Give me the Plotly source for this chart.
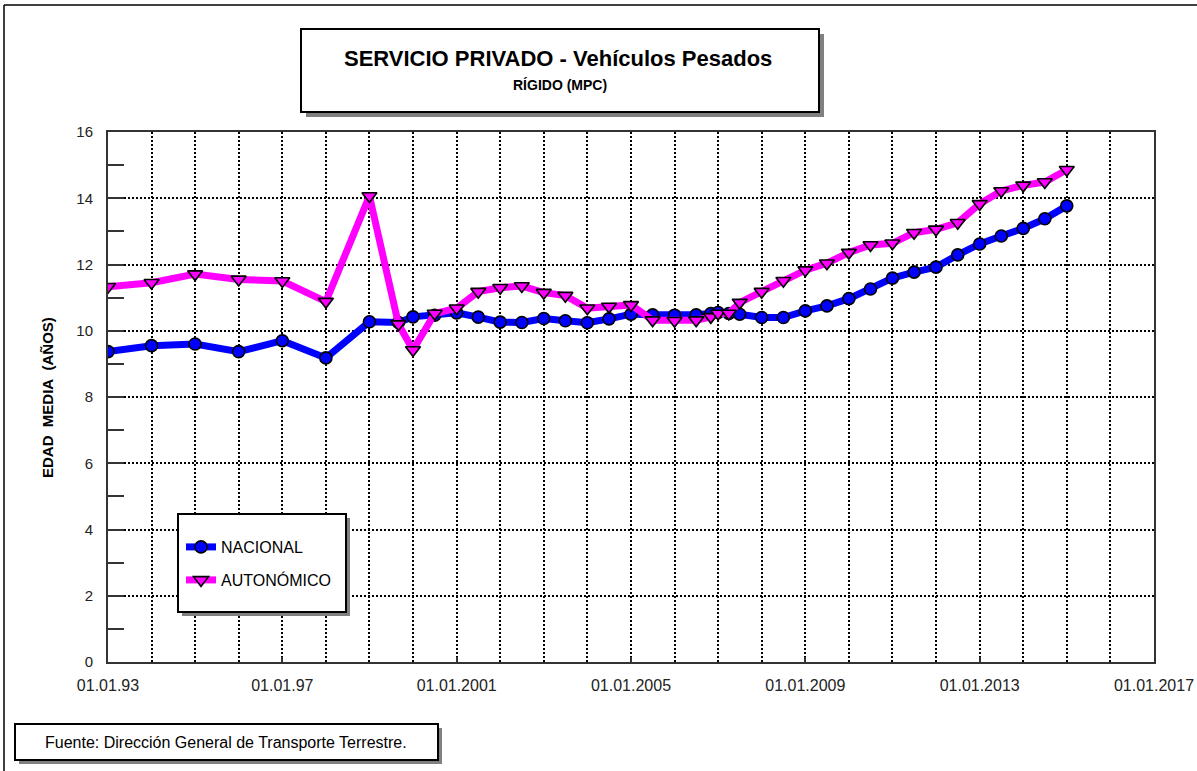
import plotly.graph_objects as go

# ---- data ----
dates = ["1993-01-01", "1994-01-01", "1995-01-01", "1996-01-01", "1997-01-01",
         "1998-01-01", "1999-01-01", "1999-09-01", "2000-01-01", "2000-07-01",
         "2001-01-01", "2001-07-01", "2002-01-01", "2002-07-01", "2003-01-01",
         "2003-07-01", "2004-01-01", "2004-07-01", "2005-01-01", "2005-07-01",
         "2006-01-01", "2006-07-01", "2006-11-01", "2007-01-01", "2007-04-01",
         "2007-07-01", "2008-01-01", "2008-07-01", "2009-01-01", "2009-07-01",
         "2010-01-01", "2010-07-01", "2011-01-01", "2011-07-01", "2012-01-01",
         "2012-07-01", "2013-01-01", "2013-07-01", "2014-01-01", "2014-07-01",
         "2015-01-01"]

nacional = [9.37, 9.55, 9.60, 9.37, 9.70, 9.18, 10.27, 10.25, 10.42, 10.47,
            10.54, 10.41, 10.26, 10.25, 10.37, 10.30, 10.24, 10.36, 10.50, 10.48,
            10.47, 10.48, 10.52, 10.55, 10.52, 10.50, 10.40, 10.40, 10.60, 10.75,
            10.97, 11.26, 11.59, 11.77, 11.92, 12.29, 12.62, 12.86, 13.09, 13.38,
            13.77]

autonomico = [11.33, 11.45, 11.71, 11.55, 11.50, 10.88, 14.07, 10.20, 9.42, 10.52,
              10.68, 11.18, 11.30, 11.35, 11.15, 11.06, 10.68, 10.73, 10.78, 10.32,
              10.30, 10.32, 10.42, 10.52, 10.52, 10.85, 11.18, 11.51, 11.83, 12.04,
              12.36, 12.59, 12.64, 12.96, 13.06, 13.26, 13.83, 14.22, 14.39, 14.49,
              14.86]

series_names = ["NACIONAL", "AUTONÓMICO"]
tick_dates = ["1993-01-01", "1997-01-01", "2001-01-01", "2005-01-01",
              "2009-01-01", "2013-01-01", "2017-01-01"]
tick_labels = ["01.01.93", "01.01.97", "01.01.2001", "01.01.2005",
               "01.01.2009", "01.01.2013", "01.01.2017"]
title_text = "SERVICIO PRIVADO - Vehículos Pesados"
subtitle_text = "RÍGIDO (MPC)"
y_title = "EDAD\u00a0\u00a0MEDIA\u00a0\u00a0(AÑOS)"
source_text = "Fuente: Dirección General de Transporte Terrestre."

# ---- layout geometry (pixels) ----
W, H = 1197, 771
L, R, T, B = 108, 1154, 132, 662
FONT = "Liberation Sans, Arial, sans-serif"


def px(x):
    return (x - L) / (R - L)


def py(y):
    return (B - y) / (B - T)


fig = go.Figure()

fig.add_trace(go.Scatter(
    x=dates, y=nacional, name=series_names[0], mode="lines+markers",
    line=dict(color="#0000FF", width=7),
    marker=dict(symbol="circle", size=12, color="#0000FF",
                line=dict(color="#000000", width=1.6)),
    legend="legend", showlegend=True,
))
fig.add_trace(go.Scatter(
    x=dates, y=autonomico, name=series_names[1], mode="lines+markers",
    line=dict(color="#FF00FF", width=7),
    marker=dict(symbol="triangle-down", size=13, color="#FF00FF",
                line=dict(color="#000000", width=1.6)),
    legend="legend2", showlegend=True,
))

shapes = []


def box(x0, y0, x1, y1, shadow=4):
    shapes.append(dict(type="rect", xref="paper", yref="paper",
                       x0=px(x0 + shadow), x1=px(x1 + shadow),
                       y0=py(y0 + shadow), y1=py(y1 + shadow),
                       fillcolor="#808080", line=dict(width=0), layer="above"))
    shapes.append(dict(type="rect", xref="paper", yref="paper",
                       x0=px(x0), x1=px(x1), y0=py(y0), y1=py(y1),
                       fillcolor="#FFFFFF", line=dict(color="#000000", width=2),
                       layer="above"))


box(301, 29, 819, 112, shadow=5)
box(178, 514, 346, 612, shadow=4)
box(15, 724, 438, 760, shadow=4)

# outer frame (left + top lines)
shapes.append(dict(type="line", xref="paper", yref="paper",
                   x0=px(4), x1=px(4), y0=py(5), y1=py(790),
                   line=dict(color="#000000", width=1.5)))
shapes.append(dict(type="line", xref="paper", yref="paper",
                   x0=px(4), x1=px(1220), y0=py(5), y1=py(5),
                   line=dict(color="#000000", width=1.5)))

annotations = [
    dict(text="<b>" + title_text + "</b>", xref="paper", yref="paper",
         x=px(558), y=py(58), showarrow=False, xanchor="center", yanchor="middle",
         font=dict(family=FONT, size=22, color="#000000")),
    dict(text="<b>" + subtitle_text + "</b>", xref="paper", yref="paper",
         x=px(560), y=py(85), showarrow=False, xanchor="center", yanchor="middle",
         font=dict(family=FONT, size=14, color="#000000")),
    dict(text="<b>" + y_title + "</b>", xref="paper", yref="paper",
         x=px(47), y=py(398), showarrow=False, textangle=-90,
         xanchor="center", yanchor="middle",
         font=dict(family=FONT, size=15, color="#000000")),
    dict(text=source_text, xref="paper", yref="paper",
         x=px(226), y=py(742), showarrow=False, xanchor="center", yanchor="middle",
         font=dict(family=FONT, size=16, color="#000000")),
]

grid_style = dict(showgrid=True, gridcolor="#000000", gridwidth=1.5, griddash="2px,2px")

fig.update_layout(
    width=W, height=H,
    margin=dict(l=L, r=W - R, t=T, b=H - B, autoexpand=False),
    paper_bgcolor="#FFFFFF", plot_bgcolor="#FFFFFF",
    font=dict(family=FONT, size=15, color="#222222"),
    showlegend=True,
    shapes=shapes, annotations=annotations,
    legend=dict(x=px(181), y=py(547), xanchor="left", yanchor="middle",
                bgcolor="rgba(0,0,0,0)", borderwidth=0, itemwidth=30,
                font=dict(family=FONT, size=16, color="#000000")),
    legend2=dict(x=px(181), y=py(580), xanchor="left", yanchor="middle",
                 bgcolor="rgba(0,0,0,0)", borderwidth=0, itemwidth=30,
                 font=dict(family=FONT, size=16, color="#000000")),
    xaxis=dict(
        type="date", range=["1993-01-01", "2017-01-01"],
        tickmode="array", tickvals=tick_dates, ticktext=tick_labels,
        ticks="inside", ticklen=5, tickwidth=1.5, tickcolor="#333333",
        showline=True, linecolor="#333333", linewidth=2, mirror=True,
        ticklabelstandoff=8, tickfont=dict(size=16),
        minor=dict(tickmode="linear", tick0="1993-01-01", dtick="M12", ticks="",
                   **grid_style),
        zeroline=False, **grid_style,
    ),
    yaxis=dict(
        range=[0, 16], tickmode="linear", tick0=0, dtick=2,
        ticks="inside", ticklen=16, tickwidth=1.5, tickcolor="#333333",
        showline=True, linecolor="#333333", linewidth=2, mirror=True,
        ticklabelstandoff=10, tickfont=dict(size=15),
        minor=dict(tickmode="linear", tick0=0, dtick=1, ticks="inside",
                   ticklen=16, tickwidth=1.5, tickcolor="#333333", showgrid=False),
        zeroline=False, **grid_style,
    ),
)

fig.write_html("out.html", config={"displayModeBar": False},
               post_script="document.body.style.margin='0px';document.body.style.overflow='hidden';")
